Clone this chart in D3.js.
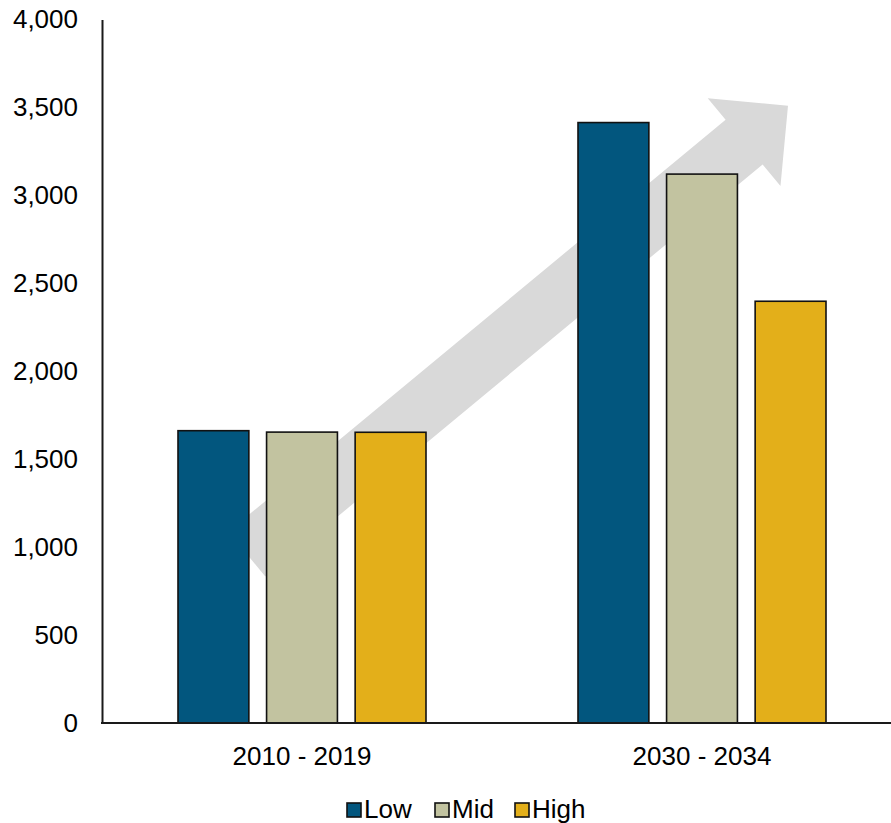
<!DOCTYPE html>
<html>
<head>
<meta charset="utf-8">
<script src="https://cdn.jsdelivr.net/npm/d3@7"></script>
<style>
  html, body { margin: 0; padding: 0; background: #fff; }
  svg { display: block; font-family: "Liberation Sans", Arial, sans-serif; }
</style>
</head>
<body>
<svg id="chart" width="891" height="823"></svg>
<script>
// Periods on the x axis and the three scenarios drawn inside each period
const periods = ["2010 - 2019", "2030 - 2034"];
const scenarios = ["Low", "Mid", "High"];
const lowValues = [1662, 3414];
const midValues = [1654, 3121];
const highValues = [1653, 2398];
const yTicks = [0, 500, 1000, 1500, 2000, 2500, 3000, 3500, 4000];
const colors = ["#02567E", "#C2C3A0", "#E3AF1A"];

const series = [lowValues, midValues, highValues];
const rows = periods.map((p, i) => ({
  period: p,
  values: scenarios.map((s, k) => ({ key: s, value: series[k][i] }))
}));

const svg = d3.select("#chart");
const W = 891, H = 823;
const margin = { left: 102, top: 19.5, bottom: 100 };
const plotBottom = H - margin.bottom; // 723

const x0 = d3.scaleBand().domain(periods).range([margin.left, margin.left + 800]).padding(0);
const x1 = d3.scaleBand().domain(scenarios)
  .range([x0.bandwidth() * 0.19, x0.bandwidth() * 0.81])
  .paddingInner(0.2).paddingOuter(0);
const y = d3.scaleLinear().domain([0, 4000]).range([plotBottom, margin.top]);

// Background trend arrow, placed in chart coordinates
const xr = d3.scaleLinear().domain([0, 1]).range(x0.range());
const arrowStart = [xr(0.181), y(960)];
const arrowTip = [xr(0.8575), y(3510)];
const shaftHalf = 29, headHalf = 57, headLen = 57;
(function drawArrow() {
  const dx = arrowTip[0] - arrowStart[0], dy = arrowTip[1] - arrowStart[1];
  const len = Math.hypot(dx, dy);
  const ux = dx / len, uy = dy / len;       // along the arrow
  const px = -uy, py = ux;                  // perpendicular
  const bx = arrowTip[0] - ux * headLen, by = arrowTip[1] - uy * headLen;
  const pts = [
    [arrowStart[0] + px * shaftHalf, arrowStart[1] + py * shaftHalf],
    [bx + px * shaftHalf, by + py * shaftHalf],
    [bx + px * headHalf, by + py * headHalf],
    arrowTip,
    [bx - px * headHalf, by - py * headHalf],
    [bx - px * shaftHalf, by - py * shaftHalf],
    [arrowStart[0] - px * shaftHalf, arrowStart[1] - py * shaftHalf]
  ];
  svg.append("path")
    .attr("d", d3.line()(pts) + "Z")
    .attr("fill", "#D9D9D9");
})();

// Bars
const groups = svg.append("g").selectAll("g")
  .data(rows).join("g")
  .attr("transform", d => `translate(${x0(d.period)},0)`);

groups.selectAll("rect")
  .data(d => d.values).join("rect")
  .attr("x", d => x1(d.key))
  .attr("width", x1.bandwidth())
  .attr("y", d => y(d.value))
  .attr("height", d => y(0) - y(d.value))
  .attr("fill", (d, i) => colors[i])
  .attr("stroke", "#111")
  .attr("stroke-width", 1.6);

// Y axis: labels only, with a plain vertical line
const yAxis = svg.append("g")
  .attr("transform", `translate(${margin.left},0)`)
  .call(d3.axisLeft(y).tickValues(yTicks).tickSize(0).tickPadding(24)
    .tickFormat(d3.format(",")));
yAxis.select(".domain").attr("stroke", "#1a1a1a").attr("stroke-width", 2);
yAxis.selectAll("text")
  .attr("font-size", 26).attr("fill", "#000")
  .attr("font-family", "Liberation Sans, Arial, sans-serif");

// X axis line across the full width
svg.append("line")
  .attr("x1", margin.left - 1).attr("x2", W)
  .attr("y1", y(0)).attr("y2", y(0))
  .attr("stroke", "#1a1a1a").attr("stroke-width", 2);

svg.append("g").selectAll("text")
  .data(periods).join("text")
  .attr("x", d => x0(d) + x0.bandwidth() / 2)
  .attr("y", 765)
  .attr("text-anchor", "middle")
  .attr("font-size", 26)
  .attr("fill", "#000")
  .text(d => d);

// Legend
const legendX = [347, 435, 515];
const legend = svg.append("g").selectAll("g")
  .data(scenarios).join("g")
  .attr("transform", (d, i) => `translate(${legendX[i]},803)`);
legend.append("rect")
  .attr("width", 14).attr("height", 14)
  .attr("fill", (d, i) => colors[i])
  .attr("stroke", "#111").attr("stroke-width", 1.6);
legend.append("text")
  .attr("x", 17).attr("y", 15)
  .attr("font-size", 26).attr("fill", "#000")
  .text(d => d);
</script>
</body>
</html>
